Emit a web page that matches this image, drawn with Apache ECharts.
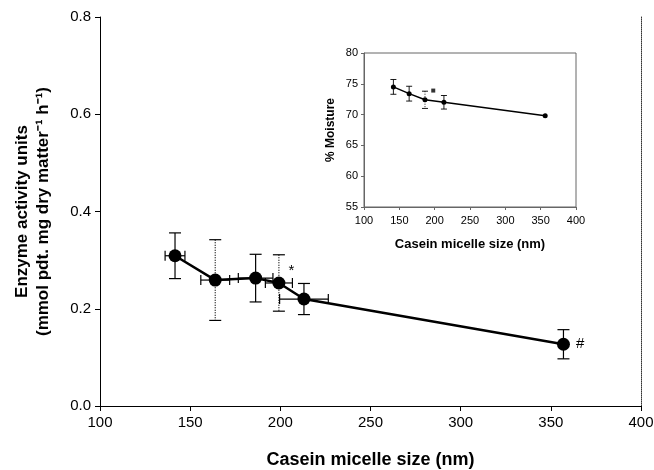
<!DOCTYPE html>
<html>
<head>
<meta charset="utf-8">
<script src="https://cdn.jsdelivr.net/npm/echarts@6/dist/echarts.min.js"></script>
<style>
  html, body { margin: 0; padding: 0; background: #fff; }
  #chart { width: 654px; height: 470px; }
</style>
</head>
<body>
<div id="chart"></div>
<script>
// Enzyme activity vs casein micelle size
const sizeNm = [141.6, 163.9, 186.3, 199.2, 213.1, 357];
const sizeErr = [5.5, 8, 9.6, 7.5, 13.5, 0];
const activity = [0.309, 0.259, 0.263, 0.253, 0.220, 0.127];
const activityErr = [0.047, 0.083, 0.049, 0.058, 0.032, 0.03];
const activityNotes = ['', '', '', '*', '', '#'];

// Inset: moisture vs casein micelle size
const moistSize = [141.6, 163.9, 186.3, 213.1, 356.4];
const moisture = [74.5, 73.4, 72.4, 72.0, 69.8];
const moistureErr = [1.2, 1.2, 1.4, 1.1, 0];
const moistFlagSize = [198];
const moistFlag = [73.9];

const xTicks = [100, 150, 200, 250, 300, 350, 400];
const yTicksMain = [0, 0.2, 0.4, 0.6, 0.8];
const yTicksInset = [55, 60, 65, 70, 75, 80];

const FONT = '"Liberation Sans", Arial, sans-serif';
const dottedMain = new Set([1, 3]);
const dottedInset = new Set([2]);
// note placement beside a marker: '*' sits up and to the right, '#' level with it
const noteOffset = { '*': [-3, -12], '#': [0, 0] };

function errorBarRenderer(dottedSet, capW, capH, lw) {
  return function (params, api) {
    const x = api.value(0), y = api.value(1), ex = api.value(2), ey = api.value(3);
    const c = api.coord([x, y]);
    const children = [];
    const solid = { stroke: '#000', lineWidth: lw };
    if (ey > 0) {
      const t = api.coord([x, y + ey]);
      const b = api.coord([x, y - ey]);
      const vStyle = dottedSet.has(params.dataIndex)
        ? { stroke: '#000', lineWidth: lw, lineDash: [1, 1.5] }
        : solid;
      children.push({ type: 'line', shape: { x1: c[0], y1: t[1], x2: c[0], y2: b[1] }, style: vStyle });
      children.push({ type: 'line', shape: { x1: c[0] - capW, y1: t[1], x2: c[0] + capW, y2: t[1] }, style: solid });
      children.push({ type: 'line', shape: { x1: c[0] - capW, y1: b[1], x2: c[0] + capW, y2: b[1] }, style: solid });
    }
    if (ex > 0) {
      const l = api.coord([x - ex, y]);
      const r = api.coord([x + ex, y]);
      children.push({ type: 'line', shape: { x1: l[0], y1: c[1], x2: r[0], y2: c[1] }, style: solid });
      children.push({ type: 'line', shape: { x1: l[0], y1: c[1] - capH, x2: l[0], y2: c[1] + capH }, style: solid });
      children.push({ type: 'line', shape: { x1: r[0], y1: c[1] - capH, x2: r[0], y2: c[1] + capH }, style: solid });
    }
    return { type: 'group', children };
  };
}

const mainErrData = sizeNm.map((x, i) => [x, activity[i], sizeErr[i], activityErr[i]]);
const insetErrData = moistSize.map((x, i) => [x, moisture[i], 0, moistureErr[i]]);
const mainLineData = sizeNm.map((x, i) => {
  const note = activityNotes[i];
  return {
    value: [x, activity[i]],
    label: { show: note !== '', formatter: note, offset: note ? noteOffset[note] : [0, 0] }
  };
});

const chart = echarts.init(document.getElementById('chart'), null, { renderer: 'canvas' });

chart.setOption({
  animation: false,
  backgroundColor: '#fff',
  grid: [
    { left: 100, right: 13, top: 17, bottom: 64, outerBoundsMode: 'none', containLabel: false },
    { left: 364, width: 212, top: 53, height: 154, outerBoundsMode: 'none', containLabel: false,
      show: true, borderColor: '#666', borderWidth: 1, backgroundColor: '#fff', z: 5 }
  ],
  xAxis: [
    {
      gridIndex: 0, type: 'value', min: xTicks[0], max: xTicks[xTicks.length - 1], interval: 50,
      name: 'Casein micelle size (nm)', nameLocation: 'middle', nameGap: 45,
      nameTextStyle: { fontFamily: FONT, fontSize: 18, fontWeight: 'bold', color: '#000' },
      axisLine: { lineStyle: { color: '#000', width: 1 } },
      axisTick: { show: true, length: 5, lineStyle: { color: '#000' } },
      axisLabel: { fontFamily: FONT, fontSize: 15, color: '#000', margin: 9 },
      splitLine: { show: false }
    },
    {
      gridIndex: 1, type: 'value', min: xTicks[0], max: xTicks[xTicks.length - 1], interval: 50,
      name: 'Casein micelle size (nm)', nameLocation: 'middle', nameGap: 31,
      nameTextStyle: { fontFamily: FONT, fontSize: 13, fontWeight: 'bold', color: '#000' },
      axisLine: { lineStyle: { color: '#666', width: 1 } },
      axisTick: { show: true, length: 3, lineStyle: { color: '#666' } },
      axisLabel: { fontFamily: FONT, fontSize: 11, color: '#000', margin: 8 },
      splitLine: { show: false },
      z: 6
    },
    {
      gridIndex: 0, type: 'value', min: xTicks[0], max: xTicks[xTicks.length - 1], position: 'top',
      axisLine: { show: true, lineStyle: { color: '#000', width: 1 } },
      axisTick: { show: false }, axisLabel: { show: false }, splitLine: { show: false }
    }
  ],
  yAxis: [
    {
      gridIndex: 0, type: 'value', min: 0, max: 0.8, interval: 0.2,
      name: 'Enzyme activity units\n(mmol pdt. mg dry matter\u207B\u00B9 h\u207B\u00B9)',
      nameLocation: 'middle', nameGap: 46, nameRotate: 90,
      nameTextStyle: { fontFamily: FONT, fontSize: 17, fontWeight: 'bold', color: '#000', lineHeight: 21 },
      axisLine: { show: true, lineStyle: { color: '#000', width: 1 } },
      axisTick: { show: true, length: 5, lineStyle: { color: '#000' } },
      axisLabel: { fontFamily: FONT, fontSize: 15, color: '#000', margin: 9, formatter: v => v.toFixed(1) },
      splitLine: { show: false }
    },
    {
      gridIndex: 0, type: 'value', min: 0, max: 0.8, position: 'right',
      axisLine: { show: true, lineStyle: { color: '#333', width: 1, type: [1, 1] } },
      axisTick: { show: false }, axisLabel: { show: false }, splitLine: { show: false }
    },
    {
      gridIndex: 1, type: 'value', min: yTicksInset[0], max: yTicksInset[yTicksInset.length - 1], interval: 5,
      name: '% Moisture', nameLocation: 'middle', nameGap: 27, nameRotate: 90,
      nameTextStyle: { fontFamily: FONT, fontSize: 12, fontWeight: 'bold', color: '#000' },
      axisLine: { show: true, lineStyle: { color: '#666', width: 1 } },
      axisTick: { show: true, length: 3, lineStyle: { color: '#666' } },
      axisLabel: { fontFamily: FONT, fontSize: 11, color: '#000', margin: 6 },
      splitLine: { show: false },
      z: 6
    }
  ],
  series: [
    {
      type: 'custom', xAxisIndex: 0, yAxisIndex: 0, z: 2,
      renderItem: errorBarRenderer(dottedMain, 6, 5, 1.2),
      data: mainErrData
    },
    {
      type: 'line', xAxisIndex: 0, yAxisIndex: 0, z: 3,
      data: mainLineData,
      symbol: 'circle', symbolSize: 13,
      itemStyle: { color: '#000' },
      lineStyle: { color: '#000', width: 2.5 },
      label: {
        show: true, position: 'right', distance: 6,
        fontFamily: FONT, fontSize: 15, color: '#000'
      }
    },
    {
      type: 'custom', xAxisIndex: 1, yAxisIndex: 2, z: 7,
      renderItem: errorBarRenderer(dottedInset, 3, 3, 0.9),
      data: insetErrData
    },
    {
      type: 'line', xAxisIndex: 1, yAxisIndex: 2, z: 8,
      data: moistSize.map((x, i) => [x, moisture[i]]),
      symbol: 'circle', symbolSize: 5,
      itemStyle: { color: '#000' },
      lineStyle: { color: '#000', width: 1.5 }
    },
    {
      type: 'scatter', xAxisIndex: 1, yAxisIndex: 2, z: 8,
      data: moistFlagSize.map((x, i) => [x, moistFlag[i]]),
      symbol: 'rect', symbolSize: 4,
      itemStyle: { color: '#000' }
    }
  ]
});
</script>
</body>
</html>
